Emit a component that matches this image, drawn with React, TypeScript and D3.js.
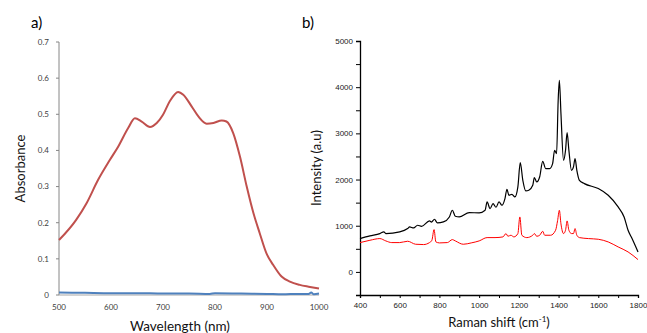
import React, { useEffect, useRef } from "react";
import * as d3 from "d3";

// panel a) UV-vis absorbance
const absWavelength = [500, 533, 553, 575, 598, 614, 633, 646, 659, 675, 688, 700, 713, 729, 739, 755, 768, 784, 797, 813, 822, 835, 848, 861, 874, 886, 899, 912, 928, 944, 963, 980, 1000];
const absRed = [0.152, 0.208, 0.254, 0.318, 0.374, 0.411, 0.462, 0.489, 0.48, 0.465, 0.476, 0.499, 0.536, 0.562, 0.554, 0.522, 0.494, 0.474, 0.476, 0.483, 0.48, 0.448, 0.383, 0.3, 0.226, 0.171, 0.115, 0.083, 0.051, 0.037, 0.028, 0.023, 0.018];
const blueWavelength = [500, 550, 600, 650, 700, 750, 790, 800, 850, 900, 930, 960, 980, 985, 990, 1000];
const absBlue = [0.007, 0.006, 0.005, 0.005, 0.004, 0.004, 0.003, 0.005, 0.004, 0.003, 0.002, 0.003, 0.003, 0.007, 0.002, 0.004];
const absYTicks = [0, 0.1, 0.2, 0.3, 0.4, 0.5, 0.6, 0.7];
const absXTicks = [500, 600, 700, 800, 900, 1000];

// panel b) Raman
const ramanShiftBlack = [400, 450, 500, 520, 530, 600, 640, 650, 670, 690, 710, 750, 760, 775, 790, 820, 850, 865, 880, 900, 950, 1000, 1030, 1040, 1055, 1070, 1085, 1100, 1115, 1130, 1140, 1150, 1165, 1180, 1195, 1207, 1220, 1235, 1250, 1270, 1278, 1290, 1305, 1320, 1335, 1355, 1370, 1380, 1390, 1398, 1404, 1412, 1425, 1435, 1443, 1452, 1465, 1475, 1483, 1492, 1505, 1530, 1600, 1650, 1700, 1730, 1750, 1770, 1800];
const ramanBlack = [721, 780, 830, 866, 830, 866, 938, 974, 952, 1010, 988, 1104, 1080, 1140, 1060, 1082, 1190, 1335, 1205, 1190, 1284, 1277, 1335, 1515, 1371, 1479, 1400, 1515, 1443, 1587, 1789, 1659, 1681, 1623, 1840, 2366, 1984, 1753, 1768, 1876, 2042, 1948, 2060, 2395, 2237, 2237, 2345, 2633, 2561, 3715, 4149, 3427, 2417, 2633, 3016, 2633, 2200, 2273, 2453, 2200, 1984, 1912, 1804, 1659, 1407, 1190, 902, 722, 433];
const ramanShiftRed = [400, 450, 500, 530, 560, 600, 640, 680, 720, 750, 762, 773, 782, 800, 840, 865, 880, 920, 960, 1000, 1040, 1080, 1120, 1135, 1145, 1160, 1175, 1195, 1205, 1215, 1240, 1270, 1278, 1290, 1305, 1320, 1330, 1360, 1385, 1395, 1404, 1412, 1425, 1435, 1443, 1452, 1465, 1475, 1483, 1492, 1505, 1550, 1600, 1650, 1700, 1750, 1800];
const ramanRed = [635, 685, 722, 671, 635, 635, 664, 599, 592, 635, 685, 916, 650, 628, 635, 700, 671, 599, 628, 671, 743, 743, 758, 830, 772, 794, 758, 830, 1190, 794, 743, 794, 830, 772, 794, 880, 794, 794, 902, 1110, 1335, 1040, 830, 902, 1104, 902, 830, 830, 938, 794, 743, 722, 707, 649, 541, 433, 267];
const ramanYTicks = [0, 1000, 2000, 3000, 4000, 5000];
const ramanXTicks = [400, 600, 800, 1000, 1200, 1400, 1600, 1800];

const titleFont = "Lato, 'Open Sans', sans-serif";

const App = () => {
  const ref = useRef<SVGSVGElement | null>(null);

  useEffect(() => {
    const svg = d3.select(ref.current);
    svg.selectAll("*").remove();

    // ---------- panel a ----------
    const xa = d3.scaleLinear().domain([500, 1000]).range([59, 319]);
    const ya = d3.scaleLinear().domain([0, 0.7]).range([295, 42]);
    const gA = svg.append("g");

    gA.append("line")
      .attr("x1", 59).attr("x2", 59).attr("y1", ya(0.7)).attr("y2", ya(0))
      .attr("stroke", "#868686").attr("stroke-width", 1);
    gA.append("line")
      .attr("x1", xa(500)).attr("x2", xa(1000)).attr("y1", ya(0)).attr("y2", ya(0))
      .attr("stroke", "#a6a6a6").attr("stroke-width", 1);

    absYTicks.forEach((t) => {
      gA.append("line")
        .attr("x1", 56).attr("x2", 59).attr("y1", ya(t)).attr("y2", ya(t))
        .attr("stroke", "#868686");
      gA.append("text")
        .attr("x", 49).attr("y", ya(t)).attr("dy", "0.35em")
        .attr("text-anchor", "end").attr("font-size", 8)
        .attr("font-family", titleFont).attr("fill", "#404040")
        .text(t === 0 ? "0" : t.toFixed(1));
    });
    absXTicks.forEach((t) => {
      gA.append("text")
        .attr("x", xa(t)).attr("y", 310)
        .attr("text-anchor", "middle").attr("font-size", 8)
        .attr("font-family", titleFont).attr("fill", "#404040")
        .text(t);
    });

    gA.append("path")
      .attr("d", d3.line<number>().curve(d3.curveMonotoneX).x((_, i) => xa(blueWavelength[i])).y((d) => ya(d))(absBlue))
      .attr("fill", "none").attr("stroke", "#4f81bd").attr("stroke-width", 2);
    gA.append("path")
      .attr("d", d3.line<number>().curve(d3.curveMonotoneX).x((_, i) => xa(absWavelength[i])).y((d) => ya(d))(absRed))
      .attr("fill", "none").attr("stroke", "#c0504d").attr("stroke-width", 2);

    gA.append("text")
      .attr("transform", `translate(25,${(ya(0) + ya(0.7)) / 2}) rotate(-90)`)
      .attr("text-anchor", "middle").attr("font-size", 13)
      .attr("font-family", titleFont).attr("fill", "#111")
      .text("Absorbance");
    gA.append("text")
      .attr("x", 180).attr("y", 331)
      .attr("text-anchor", "middle").attr("font-size", 13.5)
      .attr("font-family", titleFont).attr("fill", "#111")
      .text("Wavelength (nm)");
    gA.append("text")
      .attr("x", 31).attr("y", 28).attr("font-size", 15)
      .attr("font-family", titleFont).text("a)");

    // ---------- panel b ----------
    const xb = d3.scaleLinear().domain([400, 1800]).range([360, 638]);
    const yb = d3.scaleLinear().domain([-500, 5000]).range([295, 41]);
    const gB = svg.append("g");

    gB.append("g")
      .attr("transform", `translate(360,0)`)
      .call(d3.axisLeft(yb).tickValues(d3.range(-500, 5001, 500)).tickSize(4)
        .tickFormat((d) => (ramanYTicks.includes(+d) ? String(d) : "")))
      .call((g) => g.select(".domain").attr("stroke", "#000").attr("stroke-width", 1.3))
      .call((g) => g.selectAll(".tick line").attr("stroke", "#000"))
      .call((g) => g.selectAll("text").attr("font-size", 8).attr("font-family", "'Liberation Sans', Arial, sans-serif").attr("fill", "#222").attr("x", -7));

    gB.append("g")
      .attr("transform", `translate(0,295)`)
      .call(d3.axisBottom(xb).tickValues(d3.range(400, 1801, 100)).tickSize(3)
        .tickFormat((d) => (ramanXTicks.includes(+d) ? String(d) : "")))
      .call((g) => g.select(".domain").attr("stroke", "#000").attr("stroke-width", 1.3))
      .call((g) => g.selectAll(".tick line").attr("stroke", "#000"))
      .call((g) => g.selectAll("text").attr("font-size", 8).attr("font-family", "'Liberation Sans', Arial, sans-serif").attr("fill", "#222").attr("y", 7));

    gB.append("path")
      .attr("d", d3.line<number>().x((_, i) => xb(ramanShiftRed[i])).y((d) => yb(d)).curve(d3.curveMonotoneX)(ramanRed))
      .attr("fill", "none").attr("stroke", "#ff0000").attr("stroke-width", 1);
    gB.append("path")
      .attr("d", d3.line<number>().x((_, i) => xb(ramanShiftBlack[i])).y((d) => yb(d)).curve(d3.curveMonotoneX)(ramanBlack))
      .attr("fill", "none").attr("stroke", "#000").attr("stroke-width", 1.2);

    gB.append("text")
      .attr("transform", `translate(321,${(yb(-500) + yb(5000)) / 2}) rotate(-90)`)
      .attr("text-anchor", "middle").attr("font-size", 13)
      .attr("font-family", titleFont).attr("fill", "#111")
      .text("Intensity (a.u)");
    const xt = gB.append("text")
      .attr("x", 499).attr("y", 327)
      .attr("text-anchor", "middle").attr("font-size", 13)
      .attr("font-family", titleFont).attr("fill", "#111");
    xt.append("tspan").text("Raman shift (cm");
    xt.append("tspan").attr("font-size", 8).attr("dy", -5).text("-1");
    xt.append("tspan").attr("dy", 5).text(")");
    gB.append("text")
      .attr("x", 302).attr("y", 28).attr("font-size", 15)
      .attr("font-family", titleFont).text("b)");
  }, []);

  return (
    <svg
      ref={ref}
      width={647}
      height={333}
      style={{ position: "absolute", left: 0, top: 0, background: "#fff" }}
    />
  );
};

export default App;
